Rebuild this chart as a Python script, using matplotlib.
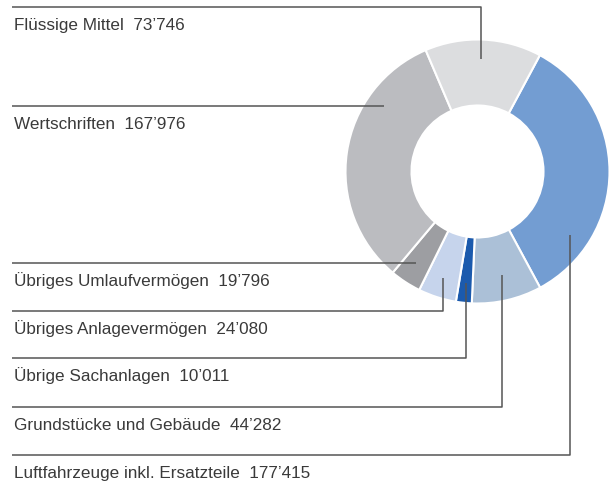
import matplotlib
matplotlib.use('Agg')
import matplotlib.pyplot as plt

# data (clockwise from the top right)
labels = ['Luftfahrzeuge inkl. Ersatzteile', 'Grundstücke und Gebäude', 'Übrige Sachanlagen',
          'Übriges Anlagevermögen', 'Übriges Umlaufvermögen', 'Wertschriften', 'Flüssige Mittel']
values = [177415, 44282, 10011, 24080, 19796, 167976, 73746]
colors = ['#739dd2', '#abc0d7', '#1b5aad', '#c6d4ec', '#9d9ea2', '#bbbcc0', '#dcdddf']

W, H = 611, 484
fig = plt.figure(figsize=(W / 100, H / 100), dpi=100)
ax = fig.add_axes([0, 0, 1, 1])


def py(y):
    # pixel row -> data y
    return H - y


cx, cy, R = 477.5, 171.5, 132
ax.pie(values, colors=colors, startangle=61.8, counterclock=False,
       center=(cx, py(cy)), radius=R, frame=True,
       wedgeprops=dict(width=R * 0.5, edgecolor='white', linewidth=1.5))
ax.set_xlim(0, W)
ax.set_ylim(0, H)
ax.set_aspect('equal')
ax.axis('off')

# leader layout: (label row, anchor x, anchor y) in pixels
leaders = {
    'Flüssige Mittel': (7, 480.5, 59),
    'Wertschriften': (106, 384, 106),
    'Übriges Umlaufvermögen': (263, 416, 263),
    'Übriges Anlagevermögen': (311, 442.5, 278),
    'Übrige Sachanlagen': (358, 465.5, 283),
    'Grundstücke und Gebäude': (407, 501.5, 275),
    'Luftfahrzeuge inkl. Ersatzteile': (455, 569.5, 235),
}

for lab, val in zip(labels, values):
    ly, ax_x, ax_y = leaders[lab]
    xs = [12, ax_x, ax_x]
    ys = [py(ly), py(ly), py(ax_y)]
    ax.plot(xs, ys, color='#555555', linewidth=1.1, solid_capstyle='butt')
    txt = f"{lab}  {val:,}".replace(',', '’')
    ax.text(14, py(ly + 23), txt, fontsize=12.3, color='#3a3a3a',
            family='Liberation Sans', va='baseline', ha='left')

fig.savefig('out.png', dpi=100)
